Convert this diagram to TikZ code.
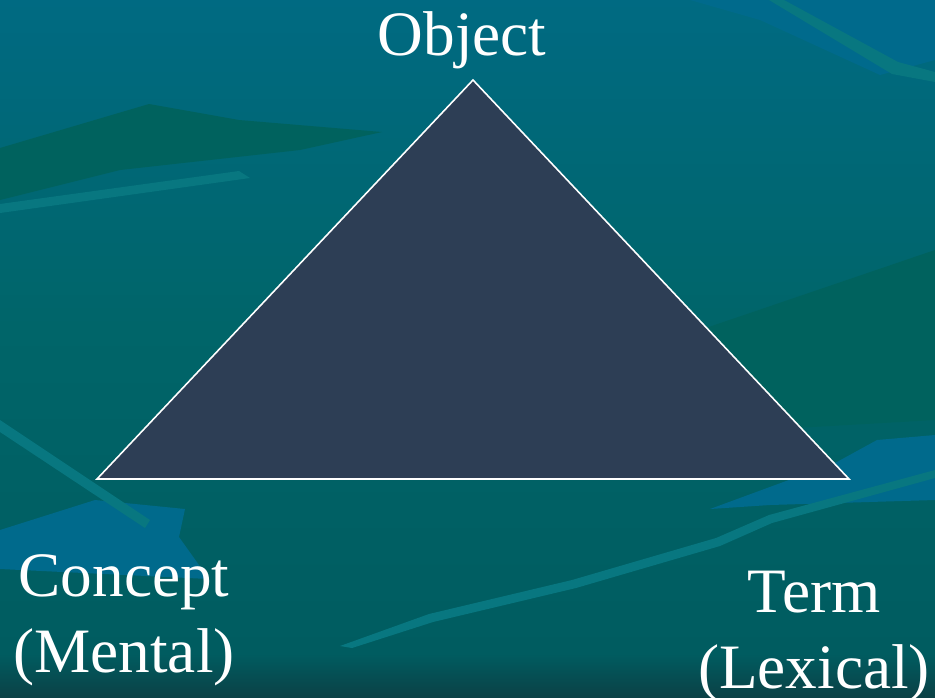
\documentclass[tikz,border=0pt]{standalone}
\usepackage{fontspec}
\setmainfont{Liberation Serif}
\usepackage{tikz}
\usetikzlibrary{positioning}
\definecolor{bgtop}{HTML}{006A82}
\definecolor{bgmid}{HTML}{006569}
\definecolor{bgbot}{HTML}{005C60}
\definecolor{bgdeep}{HTML}{0B4146}
\definecolor{streak}{HTML}{087780}
\definecolor{greenpatch}{HTML}{00625E}
\definecolor{bluepatch}{HTML}{006A8C}
\definecolor{trifill}{HTML}{2D3E55}
\tikzstyle{label} = [text=white, font=\fontsize{36}{43}\selectfont, align=center, inner sep=0pt]
\tikzstyle{edge} = [draw=white, line width=0.9pt, line join=miter]

\begin{document}
\begin{tikzpicture}[x=0.02cm, y=-0.02cm]
  % background
  \useasboundingbox (0,0) rectangle (935,697);
  \shade[top color=bgtop, bottom color=bgbot, middle color=bgmid] (0,0) rectangle (935,655);
  \shade[top color=bgbot, bottom color=bgdeep] (0,654) rectangle (935,697);
  \fill[greenpatch] (0,148) -- (149,104) -- (239,120) -- (382,132) -- (300,150) -- (120,170) -- (0,200) -- cycle;
  \fill[greenpatch] (700,330) -- (935,250) -- (935,420) -- (760,430) -- cycle;
  \fill[bluepatch] (835,463) -- (877,440) -- (935,435) -- (935,500) -- (770,505) -- (710,509) -- cycle;
  \fill[bluepatch] (95,500) -- (185,509) -- (179,537) -- (209,579) -- (0,569) -- (0,530) -- cycle;
  \fill[bluepatch] (690,0) -- (935,0) -- (935,60) -- (880,75) -- (760,20) -- cycle;
  \fill[streak] (0,204) -- (239,171) -- (250,178) -- (0,213) -- cycle;
  \fill[streak] (769,0) -- (784,0) -- (898,62) -- (935,72) -- (935,82) -- (892,74) -- cycle;
  \fill[streak] (340,646) -- (429,614) -- (572,580) -- (716,538) -- (769,515) -- (935,470) -- (935,478) -- (772,523) -- (720,546) -- (576,588) -- (433,622) -- (352,648) -- cycle;
  \fill[streak] (0,420) -- (150,520) -- (145,528) -- (0,432) -- cycle;

  % triangle corners
  \coordinate (apex) at (473,80);
  \coordinate (left) at (97,479);
  \coordinate (right) at (849,479);
  \fill[trifill] (apex) -- (right) -- (left) -- cycle;
  \draw[edge] (apex) -- (right) -- (left) -- cycle;

  % corner labels
  \node[label, anchor=base] (object) at (462,55) {Object};
  \node[label, anchor=base] (concept) at (124,672) {Concept\\(Mental)};
  \node[label, anchor=base] (term) at (814,688) {Term\\(Lexical)};
\end{tikzpicture}
\end{document}
